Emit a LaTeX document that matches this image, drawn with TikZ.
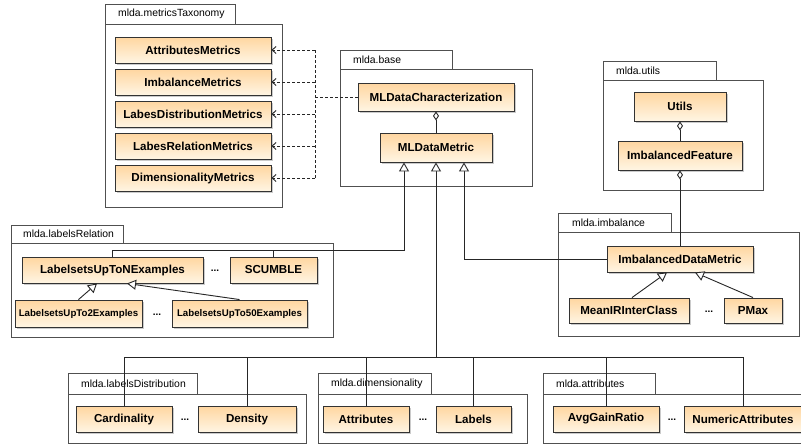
\documentclass[tikz,border=0pt]{standalone}
\usepackage{fontspec}
\setmainfont{Liberation Sans}
\usetikzlibrary{arrows.meta,shadows}
\definecolor{clsTop}{HTML}{FFD6A0}
\definecolor{clsBot}{HTML}{FFF5E3}
\definecolor{pkgLine}{HTML}{505050}
\definecolor{lineC}{HTML}{262626}
\tikzset{
 cls/.style={draw=black!80, line width=0.9pt, top color=clsTop, bottom color=clsBot,
   font=\fontsize{11.6}{13}\selectfont\bfseries, inner sep=0pt,
   drop shadow={shadow xshift=2pt, shadow yshift=-2pt, fill=black!40, opacity=0.5}},
 smallcls/.style={cls, font=\fontsize{9.7}{11}\selectfont\bfseries},
 wh/.style 2 args={minimum width=#1pt, minimum height=#2pt},
 pkg/.style={draw=pkgLine, line width=0.9pt, fill=white},
 pkglabel/.style={font=\fontsize{10.4}{12}\selectfont, inner sep=0pt, anchor=west},
 dots/.style={font=\bfseries\fontsize{10}{12}\selectfont, inner sep=0pt},
 conn/.style={draw=lineC, line width=0.9pt},
 gen/.style={conn, -{Triangle[open, length=9pt, width=10pt, fill=white]}},
 agg/.style={conn, {Diamond[open, length=9pt, width=6pt, fill=white]}-},
 dep/.style={conn, dash pattern=on 3pt off 2pt},
 deptip/.style={dep, -{Straight Barb[length=4pt, width=7pt]}},
}
\begin{document}
\begin{tikzpicture}[x=1pt, y=-1pt]
\clip (0,0) rectangle (801,445);
\fill[white] (0,0) rectangle (801,445);

% ---------------- packages ----------------
\draw[pkg] (105,4) rectangle (235,24);
\draw[pkg] (105,24) rectangle (282,207);
\node[pkglabel] (lmt) at (118,14) {mlda.metricsTaxonomy};

\draw[pkg] (340,50) rectangle (452,69);
\draw[pkg] (340,69) rectangle (532,186);
\node[pkglabel] (lbase) at (353,59.5) {mlda.base};

\draw[pkg] (603,61) rectangle (716,80);
\draw[pkg] (603,80) rectangle (763,190);
\node[pkglabel] (lutils) at (616,70.5) {mlda.utils};

\draw[pkg] (11,225) rectangle (123,243);
\draw[pkg] (11,243) rectangle (333,337);
\node[pkglabel] (llr) at (23,234) {mlda.labelsRelation};

\draw[pkg] (558,213) rectangle (671,232);
\draw[pkg] (558,232) rectangle (799,336);
\node[pkglabel] (limb) at (572,222.5) {mlda.imbalance};

\draw[pkg] (68,373) rectangle (197,394);
\draw[pkg] (68,394) rectangle (306,443);
\node[pkglabel] (lld) at (81,383.5) {mlda.labelsDistribution};

\draw[pkg] (318,373) rectangle (431,394);
\draw[pkg] (318,394) rectangle (527,443);
\node[pkglabel] (ldim) at (331,383.5) {mlda.dimensionality};

\draw[pkg] (543,373) rectangle (655,394);
\draw[pkg] (543,394) rectangle (812,443);
\node[pkglabel] (lattr) at (556,383.5) {mlda.attributes};

% ---------------- classes ----------------
\node[cls, wh={156}{26}] (am)  at (193,50)  {AttributesMetrics};
\node[cls, wh={156}{26}] (im)  at (193,82)  {ImbalanceMetrics};
\node[cls, wh={156}{26}] (ldm) at (193,114) {LabesDistributionMetrics};
\node[cls, wh={156}{26}] (lrm) at (193,146) {LabesRelationMetrics};
\node[cls, wh={156}{26}] (dm)  at (193,178) {DimensionalityMetrics};

\node[cls, wh={156}{28}] (mldc) at (436,97) {MLDataCharacterization};
\node[cls, wh={112}{29}] (mldm) at (436,147.5) {MLDataMetric};

\node[cls, wh={92}{29}]  (utils) at (680,106.5) {Utils};
\node[cls, wh={124}{29}] (imbf)  at (680,155.5) {ImbalancedFeature};

\node[cls, wh={181}{26}] (upton) at (112.5,270) {LabelsetsUpToNExamples};
\node[dots] (d1) at (215,271) {...};
\node[cls, wh={87}{26}]  (scum)  at (273.5,270) {SCUMBLE};
\node[smallcls, wh={127}{27}] (upto2)  at (78.5,313.5) {LabelsetsUpTo2Examples};
\node[dots] (d2) at (157,315) {...};
\node[smallcls, wh={135}{27}] (upto50) at (239.5,313.5) {LabelsetsUpTo50Examples};

\node[cls, wh={146}{26}] (idm)  at (680,259) {ImbalancedDataMetric};
\node[cls, wh={120}{25}] (mir)  at (629,310.5) {MeanIRInterClass};
\node[dots] (d3) at (709,312) {...};
\node[cls, wh={58}{25}]  (pmax) at (753,310.5) {PMax};

\node[cls, wh={96}{26}]  (card) at (124,419) {Cardinality};
\node[dots] (d4) at (185,420) {...};
\node[cls, wh={98}{26}]  (dens) at (247,419) {Density};

\node[cls, wh={86}{26}]  (attr) at (366,419) {Attributes};
\node[dots] (d5) at (423,420) {...};
\node[cls, wh={75}{26}]  (labs) at (473.5,419) {Labels};

\node[cls, wh={106}{26}] (avg)  at (606,419) {AvgGainRatio};
\node[dots] (d6) at (672,420) {...};
\node[cls, wh={118}{26}] (num)  at (743,419) {NumericAttributes};

% ---------------- dependencies ----------------
\coordinate (dj) at (315,97);
\draw[dep] (mldc.west) -- (dj);
\draw[dep] (am.east -| dj) -- (dm.east -| dj);
\draw[deptip] (am.east -| dj)  -- (am.east);
\draw[deptip] (im.east -| dj)  -- (im.east);
\draw[deptip] (ldm.east -| dj) -- (ldm.east);
\draw[deptip] (lrm.east -| dj) -- (lrm.east);
\draw[deptip] (dm.east -| dj)  -- (dm.east);

% ---------------- aggregations ----------------
\draw[agg] (mldc.south) -- (mldm.north);
\draw[agg] (utils.south) -- (imbf.north);
\draw[agg] (imbf.south) -- (idm.north);

% ---------------- generalizations ----------------
\coordinate (lr) at (404,250);
\draw[gen] (upton.north) |- (lr) -- (mldm.south -| lr);
\draw[conn] (scum.north) |- (lr);

\coordinate (ib) at (464,259);
\draw[gen] (idm.west) -- (ib) -- (mldm.south -| ib);

\coordinate (bus) at (436,357);
\draw[gen] (bus) -- (mldm.south);
\draw[conn] (card.north) |- (bus);
\draw[conn] (dens.north) |- (bus);
\draw[conn] (attr.north) |- (bus);
\draw[conn] (labs.north) |- (bus);
\draw[conn] (avg.north)  |- (bus);
\draw[conn] (num.north)  |- (bus);

\draw[gen] (upto2.north)  -- ([xshift=-15.5pt]upton.south);
\draw[gen] (upto50.north) -- ([xshift=14.5pt]upton.south);
\draw[gen] ([xshift=3pt]mir.north) -- ([xshift=-13pt]idm.south);
\draw[gen] (pmax.north) -- ([xshift=15pt]idm.south);
\end{tikzpicture}
\end{document}
